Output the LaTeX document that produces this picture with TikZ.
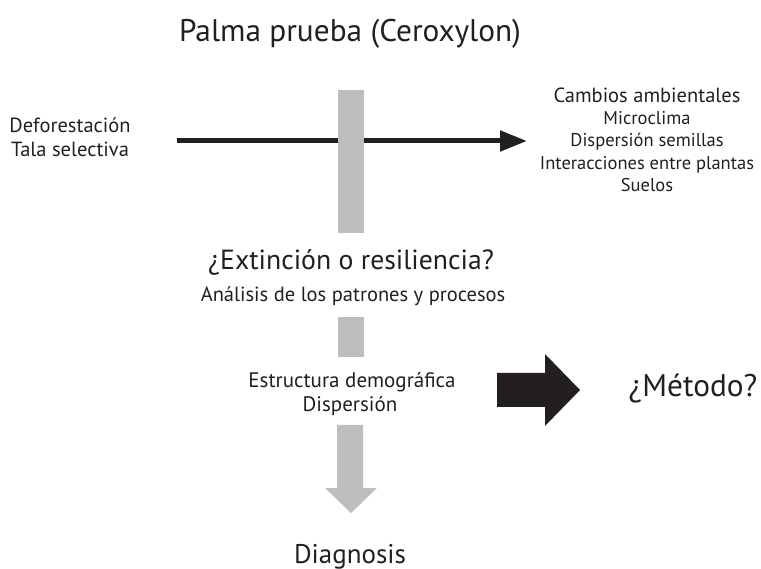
\documentclass[tikz,border=0pt]{standalone}
\usepackage{fontspec}
\setmainfont{PT Sans}
\usetikzlibrary{arrows.meta}
\definecolor{bargray}{RGB}{188,190,192}
\definecolor{inkblack}{RGB}{35,31,32}

\begin{document}
\begin{tikzpicture}[
    x=1pt, y=-1pt,
    every node/.style={align=center, inner sep=0pt, text=inkblack},
    huge text/.style={font=\fontsize{31.3}{36}\selectfont},
    big text/.style={font=\fontsize{27.7}{32}\selectfont},
    mid text/.style={font=\fontsize{20.5}{24}\selectfont},
    list text/.style={font=\fontsize{18.5}{22}\selectfont},
    gray bar/.style={fill=bargray, draw=none},
    thin arrow/.style={draw=inkblack, line width=5pt, -{Triangle[length=27pt, width=20pt]}},
    ]
\useasboundingbox (0,0) rectangle (761,569);
% texts
\node[huge text, anchor=base] (title) at (350,42) {Palma prueba (Ceroxylon)};
\node[mid text, anchor=base] (defo) at (70,133) {Deforestación};
\node[mid text, anchor=base] (tala) at (70,157) {Tala selectiva};
\node[mid text, anchor=base] (cambios) at (647,103) {Cambios ambientales};
\node[list text, anchor=base] (micro) at (647,125) {Microclima};
\node[list text, anchor=base] (disp) at (647,147) {Dispersión semillas};
\node[list text, anchor=base] (inter) at (647,170) {Interacciones entre plantas};
\node[list text, anchor=base] (suelos) at (647,192) {Suelos};
\node[big text, anchor=base] (extincion) at (351,270) {¿Extinción o resiliencia?};
\node[mid text, anchor=base] (analisis) at (353,302) {Análisis de los patrones y procesos};
\node[mid text, font=\fontsize{21}{24}\selectfont, anchor=base] (estructura) at (352,388) {Estructura demográfica};
\node[mid text, font=\fontsize{21}{24}\selectfont, anchor=base] (dispersion) at (350,412) {Dispersión};
\node[huge text, anchor=base] (metodo) at (693,397) {¿Método?};
\node[big text, font=\fontsize{27}{32}\selectfont, anchor=base] (diagnosis) at (350,563) {Diagnosis};
% connectors
\coordinate (lineA) at (177,141);
\coordinate (lineB) at (527,141);
\draw[thin arrow] (lineA) -- (lineB);
\fill[gray bar] (338,90) rectangle (364,233);
\fill[gray bar] (338,317) rectangle (364,357);
\fill[gray bar] (337,425) -- (363,425) -- (363,488) -- (377,488)
    -- (351,513) -- (325,488) -- (337,488) -- cycle;
\fill[inkblack] (497,373) -- (545,373) -- (545,354) -- (580,390)
    -- (545,426) -- (545,407) -- (497,407) -- cycle;
\end{tikzpicture}
\end{document}
